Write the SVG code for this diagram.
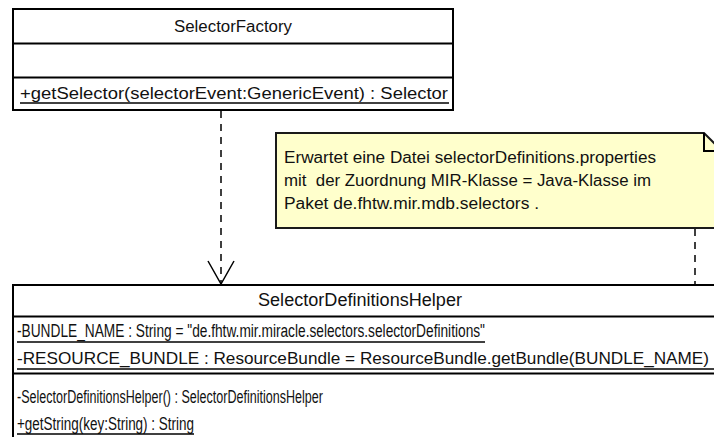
<svg xmlns="http://www.w3.org/2000/svg" width="714" height="437" viewBox="0 0 714 437">
  <style>
    .box { fill: #ffffff; stroke: #000000; stroke-width: 2; }
    .sep { stroke: #000000; stroke-width: 2; fill: none; }
    .ul { stroke: #000000; stroke-width: 1.5; fill: none; }
    .note { fill: #ffffcc; stroke: #1a1a1a; stroke-width: 2; }
    .txt { font-family: "Liberation Sans", Arial, sans-serif; font-size: 16px; fill: #111111; }
    .ctxt { font-family: "Liberation Sans", Arial, sans-serif; font-size: 18px; fill: #111111; }
    .wide { font-size: 17px; }
    .dep { stroke: #000000; stroke-width: 1.5; fill: none; stroke-dasharray: 7 6; }
    .head { stroke: #000000; stroke-width: 1.5; fill: none; }
  </style>

  <!-- connectors -->
  <g id="connectors">
    <line class="dep" x1="221" y1="111" x2="221" y2="284"/>
    <polyline class="head" points="208,261 221,284 234,261"/>
    <line class="dep" x1="695" y1="229" x2="695" y2="285"/>
  </g>

  <!-- SelectorFactory class -->
  <g id="SelectorFactory">
    <rect class="box" x="13" y="9" width="440" height="101"/>
    <line class="sep" x1="13" y1="43.5" x2="453" y2="43.5"/>
    <line class="sep" x1="13" y1="77.5" x2="453" y2="77.5"/>
    <text class="txt" x="233" y="32" text-anchor="middle" textLength="118" lengthAdjust="spacingAndGlyphs">SelectorFactory</text>
    <text class="txt" x="20" y="99" textLength="428" lengthAdjust="spacingAndGlyphs">+getSelector(selectorEvent:GenericEvent) : Selector</text>
    <line class="ul" x1="20" y1="103" x2="449" y2="103"/>
  </g>

  <!-- Note -->
  <g id="note">
    <path class="note" d="M276,133 L704,133 L722,151 L722,228 L276,228 Z"/>
    <polyline class="sep" points="704,133 704,151 722,151"/>
    <text class="txt" x="284" y="163" textLength="372" lengthAdjust="spacingAndGlyphs">Erwartet eine Datei selectorDefinitions.properties</text>
    <text class="txt" x="284" y="186" textLength="367" lengthAdjust="spacingAndGlyphs" xml:space="preserve">mit  der Zuordnung MIR-Klasse = Java-Klasse im</text>
    <text class="txt" x="284" y="209" textLength="255" lengthAdjust="spacingAndGlyphs">Paket de.fhtw.mir.mdb.selectors .</text>
  </g>

  <!-- SelectorDefinitionsHelper class -->
  <g id="SelectorDefinitionsHelper">
    <rect class="box" x="13" y="285" width="730" height="170"/>
    <line class="sep" x1="13" y1="316.5" x2="714" y2="316.5"/>
    <line class="sep" x1="13" y1="373.5" x2="714" y2="373.5"/>
    <text class="ctxt" x="360" y="306" text-anchor="middle" textLength="204" lengthAdjust="spacingAndGlyphs">SelectorDefinitionsHelper</text>
    <text class="ctxt" x="17" y="337" textLength="468" lengthAdjust="spacingAndGlyphs">-BUNDLE_NAME : String = "de.fhtw.mir.miracle.selectors.selectorDefinitions"</text>
    <line class="ul" x1="17" y1="342" x2="485" y2="342"/>
    <text class="ctxt wide" x="17" y="364" textLength="692" lengthAdjust="spacingAndGlyphs">-RESOURCE_BUNDLE : ResourceBundle = ResourceBundle.getBundle(BUNDLE_NAME)</text>
    <line class="ul" x1="17" y1="369" x2="714" y2="369"/>
    <text class="ctxt" x="17" y="403" textLength="306" lengthAdjust="spacingAndGlyphs">-SelectorDefinitionsHelper() : SelectorDefinitionsHelper</text>
    <text class="ctxt" x="17" y="430" textLength="177" lengthAdjust="spacingAndGlyphs">+getString(key:String) : String</text>
    <line class="ul" x1="17" y1="434" x2="194" y2="434"/>
  </g>
</svg>
